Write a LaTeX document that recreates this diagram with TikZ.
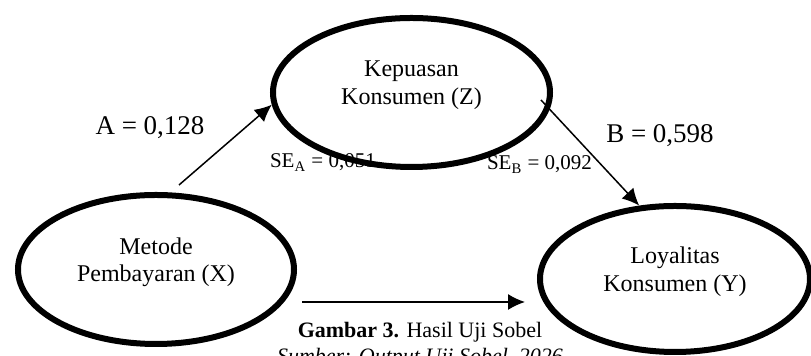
\documentclass[tikz,border=0pt]{standalone}
\usepackage{fontspec}
\setmainfont{Liberation Serif}
\usetikzlibrary{shapes.geometric,arrows.meta}
\begin{document}
\begin{tikzpicture}[x=0.5pt,y=-0.5pt,
    var/.style={draw,ellipse,line width=3pt,align=center,text depth=10pt,
      font=\fontsize{12}{13.8}\selectfont},
    coef/.style={anchor=base,font=\fontsize{13.5}{16}\selectfont},
    se/.style={anchor=base west,font=\fontsize{10.5}{12}\selectfont}]
  \useasboundingbox (0,0) rectangle (811,356);
  \draw
    (156,269.5) node[var,minimum width=138pt,minimum height=74.5pt] (x){Metode\\Pembayaran (X)}
    (411.5,92.5) node[var,minimum width=138.5pt,minimum height=74.5pt] (z){Kepuasan\\Konsumen (Z)}
    (675,279) node[var,minimum width=135pt,minimum height=73pt] (y){Loyalitas\\Konsumen (Y)};
  \coordinate (xz) at (179,185);
  \coordinate (zy) at (541,100);
  \coordinate (xy) at (302,302);
  \coordinate (yx) at (525,302);
  \begin{scope}[-{Latex[length=8.5pt,width=8pt]},line width=0.75pt]
    \draw (xz) to (z.185);
    \draw (zy) to (y.116);
    \draw (xy) to (yx);
  \end{scope}
  \draw
    (150,135) node[coef] (a){A = 0,128}
    (660,143) node[coef] (b){B = 0,598}
    (263,168) node[se] (sea){SE\textsubscript{A} = 0,051}
    (480,170) node[se] (seb){SE\textsubscript{B} = 0,092}
    (420,338) node[anchor=base,font=\fontsize{11}{13}\selectfont] (cap){\textbf{Gambar 3.} Hasil Uji Sobel}
    (420,364) node[anchor=base,font=\fontsize{11}{13}\itshape] (src){Sumber: Output Uji Sobel, 2026};
\end{tikzpicture}
\end{document}
